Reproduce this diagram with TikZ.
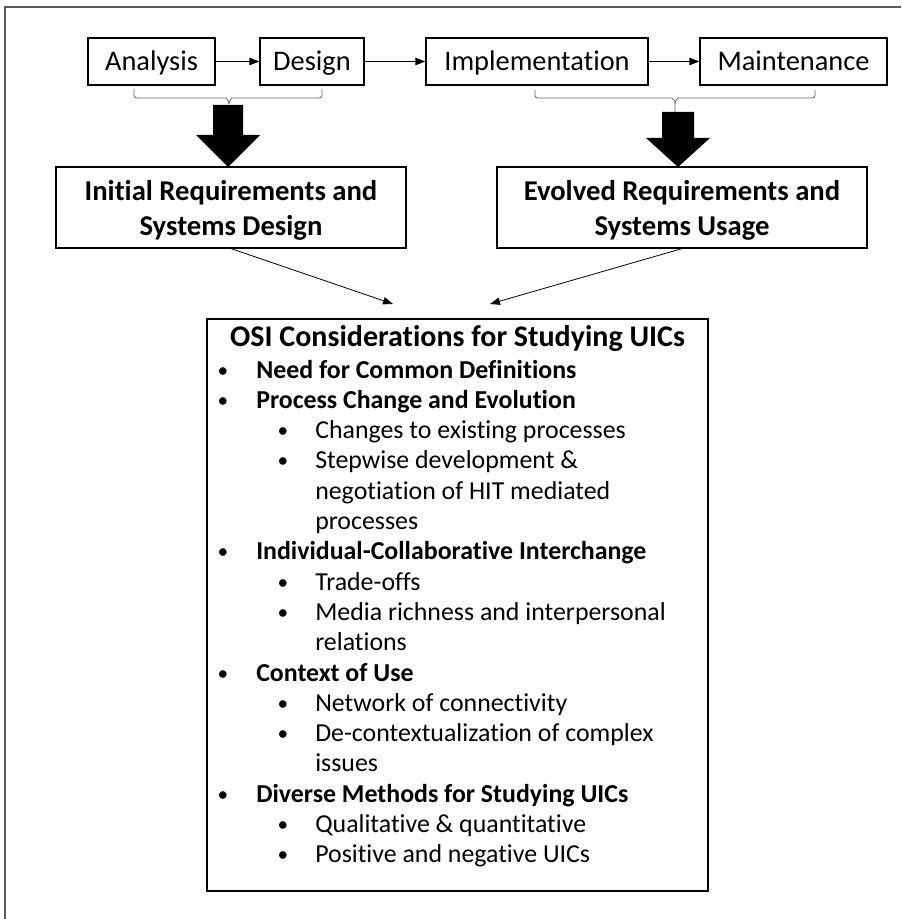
\documentclass[tikz,border=0pt]{standalone}
\usepackage{fontspec}
\setmainfont{Carlito}[Ligatures=CommonOff]
\usetikzlibrary{arrows.meta}
\begin{document}
\begin{tikzpicture}[x=0.75pt,y=-0.75pt,
  box/.style={draw, line width=0.9pt, inner sep=0pt, align=center},
  toplbl/.style={box, font=\fontsize{21.3}{25}\selectfont, minimum height=47*0.75pt, text height=16pt, text depth=2pt},
  hdr/.style={box, minimum height=81*0.75pt},
  hdrtxt/.style={inner sep=0pt, align=center, font=\fontsize{21.5}{26.25}\selectfont\bfseries},
  flow/.style={-{Triangle[length=7.5pt,width=5.5pt]}, line width=0.6pt},
  bracket/.style={draw=black!60, line width=0.6pt},
  bigarrow/.style={fill=black, draw=none},
  lvone/.style={anchor=base west, inner sep=0pt, font=\fontsize{19.4}{23}\selectfont\bfseries},
  lvtwo/.style={anchor=base west, inner sep=0pt, font=\fontsize{19.4}{23}\selectfont},
  dot/.style={anchor=base, inner sep=0pt, font=\fontsize{16}{20}\selectfont},
  ttl/.style={anchor=base, inner sep=0pt, font=\fontsize{22.5}{26}\selectfont\bfseries}
]
\useasboundingbox (0,0) rectangle (901,919);
% outer frame (top and left edges only)
\draw[line width=1pt, black!65] (5,919) -- (5,7) -- (901,7);

% top row
\node[toplbl, minimum width=127*0.75pt] (ana) at (151.5,61.5) {Analysis};
\node[toplbl, minimum width=104*0.75pt] (des) at (312,61.5) {Design};
\node[toplbl, minimum width=222*0.75pt] (imp) at (537,61.5) {Implementation};
\node[toplbl, minimum width=187*0.75pt] (mai) at (793.5,61.5) {Maintenance};
\draw[flow] (ana) -- (des);
\draw[flow] (des) -- (imp);
\draw[flow] (imp) -- (mai);

% brackets
\draw[bracket, rounded corners=2pt] (134,89) |- (223,98) to[out=0,in=90] (229,104);
\draw[bracket, rounded corners=2pt] (322,89) |- (235,98) to[out=180,in=90] (229,104);
\draw[bracket, rounded corners=2pt] (535,90) |- (669,98) to[out=0,in=90] (675,104) -- (675,112);
\draw[bracket, rounded corners=2pt] (815,90) |- (681,98) to[out=180,in=90] (675,104);

% big block arrows
\fill[bigarrow] (213,105) -- (243,105) -- (243,135) -- (260,135) -- (228,167) -- (196,135) -- (213,135) -- cycle;
\fill[bigarrow] (662,112) -- (694,112) -- (694,138) -- (710,138) -- (678,167) -- (646,138) -- (662,138) -- cycle;

% middle boxes
\node[hdr, minimum width=350*0.75pt] (ini) at (231,207.5) {};
\node[hdrtxt] (initxt) at (231,210.5) {Initial Requirements and\\Systems Design};
\node[hdr, minimum width=370*0.75pt] (evo) at (682,207.5) {};
\node[hdrtxt] (evotxt) at (682,210.5) {Evolved Requirements and\\Systems Usage};

% OSI box
\node[box, minimum width=501*0.75pt, minimum height=572*0.75pt] (osi) at (457.5,605) {};
\coordinate (t1) at (393,304);
\coordinate (t2) at (490,304);
\draw[flow] (ini.south) -- (t1);
\draw[flow] (evo.south) -- (t2);

\node[ttl] (title) at (457.5,346) {OSI Considerations for Studying UICs};

\node[dot] (d0) at (223,377) {•};
\node[lvone] (l0) at (256,378) {Need for Common Definitions};
\node[dot] (d1) at (223,407.3) {•};
\node[lvone] (l1) at (256,408.3) {Process Change and Evolution};
\node[dot] (d2) at (283,437.6) {•};
\node[lvtwo] (l2) at (315,438.6) {Changes to existing processes};
\node[dot] (d3) at (283,467.9) {•};
\node[lvtwo] (l3) at (315,468.9) {Stepwise development \&};
\node[lvtwo] (l4) at (315,499.2) {negotiation of HIT mediated};
\node[lvtwo] (l5) at (315,529.5) {processes};
\node[dot] (d6) at (223,558.8) {•};
\node[lvone] (l6) at (256,559.8) {Individual-Collaborative Interchange};
\node[dot] (d7) at (283,589.1) {•};
\node[lvtwo] (l7) at (315,590.1) {Trade-offs};
\node[dot] (d8) at (283,619.4) {•};
\node[lvtwo] (l8) at (315,620.4) {Media richness and interpersonal};
\node[lvtwo] (l9) at (315,650.7) {relations};
\node[dot] (d10) at (223,680) {•};
\node[lvone] (l10) at (256,681) {Context of Use};
\node[dot] (d11) at (283,710.3) {•};
\node[lvtwo] (l11) at (315,711.3) {Network of connectivity};
\node[dot] (d12) at (283,740.6) {•};
\node[lvtwo] (l12) at (315,741.6) {De-contextualization of complex};
\node[lvtwo] (l13) at (315,771.9) {issues};
\node[dot] (d14) at (223,801.2) {•};
\node[lvone] (l14) at (256,802.2) {Diverse Methods for Studying UICs};
\node[dot] (d15) at (283,831.5) {•};
\node[lvtwo] (l15) at (315,832.5) {Qualitative \& quantitative};
\node[dot] (d16) at (283,861.8) {•};
\node[lvtwo] (l16) at (315,862.8) {Positive and negative UICs};
\end{tikzpicture}
\end{document}
